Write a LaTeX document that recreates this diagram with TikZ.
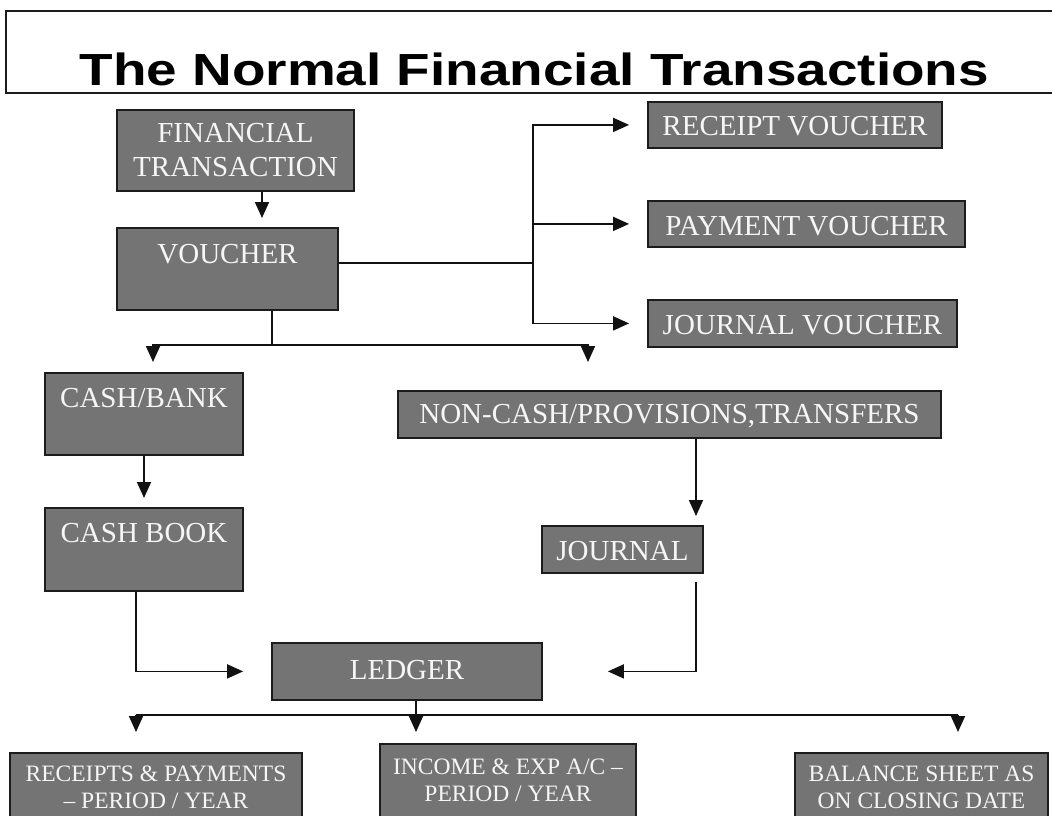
\documentclass[tikz,border=0pt]{standalone}
\usepackage{fontspec}
\setmainfont{Liberation Serif}
\newfontfamily\titlefont{Liberation Sans}
\usetikzlibrary{arrows.meta}
\definecolor{boxgray}{RGB}{116,116,116}
\definecolor{edgecol}{RGB}{28,28,28}
\definecolor{linecol}{RGB}{18,18,18}
\definecolor{boxtext}{RGB}{246,246,246}
\newcommand\bxfont{\fontsize{29}{34}\selectfont}
\newcommand\bxsmall{\fontsize{23.5}{27}\selectfont}
\tikzset{
  box/.style={draw=edgecol, fill=boxgray, line width=1.8pt, text=boxtext,
    font=\bxfont, inner xsep=0pt, inner ysep=0pt, align=center},
  lowbox/.style={box, font=\bxsmall, anchor=north},
  titlebox/.style={draw=edgecol, fill=white, line width=1.6pt, inner sep=0pt,
    font=\titlefont\bfseries\fontsize{45}{50}\selectfont, text=black},
  ln/.style={line width=1.7pt, draw=linecol},
  arr/.style={ln, -{Triangle[width=14pt,length=16pt]}},
}
\begin{document}
\begin{tikzpicture}[x=1pt,y=-1pt]
\useasboundingbox (0,0) rectangle (1052,815);
\fill[white] (0,0) rectangle (1052,815);
\clip (0,0) rectangle (1052,815);

% title
\node[titlebox, anchor=north west, minimum width=1057pt, text height=75pt, text depth=7pt]
  (title) at (5,10) {\scalebox{1.22}[1]{The Normal Financial Transactions}};

% boxes
\node[box, minimum width=237pt, minimum height=81pt] (ft) at (235.5,150.5) {FINANCIAL\\TRANSACTION};
\node[box, anchor=north, minimum width=221pt, text height=36pt, text depth=46pt] (v) at (227.5,227) {VOUCHER};
\node[box, anchor=north, minimum width=294pt, text height=34pt, text depth=12pt] (rv) at (795,101) {RECEIPT VOUCHER};
\node[box, anchor=north, minimum width=317pt, text height=35pt, text depth=11pt] (pv) at (806.5,200) {PAYMENT VOUCHER};
\node[box, anchor=north, minimum width=309pt, text height=35pt, text depth=12pt] (jv) at (802.5,299) {JOURNAL VOUCHER};
\node[box, anchor=north, minimum width=198pt, text height=35pt, text depth=47pt] (cb) at (144,372) {CASH/BANK};
\node[box, anchor=north, minimum width=543pt, text height=33pt, text depth=14pt] (nc) at (669.5,390) {NON-CASH/PROVISIONS,TRANSFERS};
\node[box, anchor=north, minimum width=198pt, text height=35pt, text depth=48pt] (cbook) at (144,507) {CASH BOOK};
\node[box, anchor=north, minimum width=161pt, text height=35pt, text depth=12pt] (j) at (622.5,525) {JOURNAL};
\node[box, anchor=north, minimum width=270pt, text height=37pt, text depth=20pt] (l) at (407,642) {LEDGER};
\node[lowbox, minimum width=292pt, inner ysep=13pt] (rp) at (156,752) {RECEIPTS \& PAYMENTS\\– PERIOD / YEAR};
\node[lowbox, minimum width=256pt, inner ysep=15pt] (ie) at (508,743) {INCOME \& EXP A/C –\\PERIOD / YEAR};
\node[lowbox, minimum width=253pt, inner ysep=13pt] (bs) at (921.5,752) {BALANCE SHEET AS\\ON CLOSING DATE};

% helper coordinates
\coordinate (x262) at (262,0);
\coordinate (bus) at (533,263);
\coordinate (vd) at (272,345);
\coordinate (sa) at (153,362);
\coordinate (sb) at (588,362);
\coordinate (x696) at (696,0);
\coordinate (x136) at (136,0);
\coordinate (x416) at (416,0);
\coordinate (hl) at (136,715);
\coordinate (hr) at (958,715);

% connectors
\draw[arr, shorten >=9pt] (x262 |- ft.south) -- (x262 |- v.north);
\draw[ln] (v.east |- bus) -- (bus);
\draw[arr, shorten >=18pt] (bus) |- (rv.west);
\draw[arr, shorten >=18pt] (bus) |- (pv.west);
\draw[arr, shorten >=18pt] (bus) |- (jv.west);
\draw[ln] (vd |- v.south) -- (vd);
\draw[arr] (vd) -| (sa);
\draw[arr] (vd) -| (sb);
\draw[arr, shorten >=9pt] (cb.south) -- (cbook.north);
\draw[arr, shorten >=9pt] (x696 |- nc.south) -- (x696 |- j.north);
\draw[arr, shorten <=8pt, shorten >=65pt] (x696 |- j.south) |- (l.east);
\draw[arr, shorten >=28pt] (x136 |- cbook.south) |- (l.west);
\draw[ln] (hl) -- (hr);
\draw[arr, shorten >=11pt] (x416 |- l.south) -- (x416 |- ie.north);
\draw[arr, shorten >=20pt] (hl) -- (hl |- rp.north);
\draw[arr, shorten >=20pt] (hr) -- (hr |- bs.north);
\end{tikzpicture}
\end{document}
